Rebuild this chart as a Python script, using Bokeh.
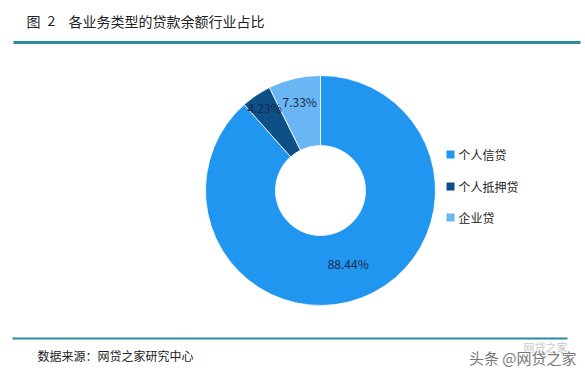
import numpy as np
from bokeh.plotting import figure
from bokeh.models import Range1d, ColumnDataSource
from bokeh.core.properties import value
from bokeh.embed import file_html
from bokeh.resources import INLINE

# ---- data ----
categories = ["个人信贷", "个人抵押贷", "企业贷"]
shares = [88.44, 4.23, 7.33]
labels = ["88.44%", "4.23%", "7.33%"]
colors = ["#2196f0", "#0d4f86", "#6ab5f3"]

title_fig = "图"
title_num = "2"
title_text = "各业务类型的贷款余额行业占比"
source_text = "数据来源：网贷之家研究中心"
watermark = "头条 @网贷之家"
watermark_small = "网贷之家"

W, H = 585, 375
FONT = "Noto Sans CJK SC"

def sy(y):  # screen y -> data y
    return H - y

p = figure(width=W, height=H, x_range=Range1d(0, W), y_range=Range1d(0, H),
           output_backend="svg", toolbar_location=None, min_border=0)
p.axis.visible = False
p.grid.visible = False
p.outline_line_color = None
p.background_fill_color = "white"
p.border_fill_color = "white"

# title
p.text(x=[26, 47], y=[sy(20)] * 2, text=[title_fig, title_num], text_font=value(FONT),
       text_font_size="14px", text_color="#222222", text_baseline="middle", text_align="left")
p.text(x=[68], y=[sy(20)], text=[title_text], text_font=value(FONT), text_font_size="14px",
       text_color="#222222", text_baseline="middle", text_align="left")
p.line(x=[13, 580], y=[sy(42), sy(42)], line_color="#2b8c9e", line_width=3)

# donut
cx, cy = 320, sy(190)
frac = np.array(shares) / np.sum(shares)
cum = np.concatenate([[0], np.cumsum(frac)])
start = np.pi / 2 - cum[:-1] * 2 * np.pi
end = np.pi / 2 - cum[1:] * 2 * np.pi
src = ColumnDataSource(dict(start=start, end=end, color=colors, cat=categories))
p.annular_wedge(x=cx, y=cy, inner_radius=45, outer_radius=115, start_angle="start",
                end_angle="end", direction="clock", fill_color="color",
                line_color="white", line_width=0.8, source=src)

# labels
mid = (start + end) / 2
lab_r = np.array([78, 100, 91])
lx = cx + lab_r * np.cos(mid)
ly = cy + lab_r * np.sin(mid)
p.text(x=lx, y=ly, text=labels, text_font=value(FONT), text_font_size="12px",
       text_color="#1b2a4c", text_align="center", text_baseline="middle")

# legend
leg_y = np.array([sy(154), sy(186), sy(217)])
p.rect(x=[450] * 3, y=leg_y, width=8, height=8, fill_color=colors, line_color=None)
p.text(x=[458] * 3, y=leg_y, text=categories, text_font=value(FONT), text_font_size="12px",
       text_color="#222222", text_align="left", text_baseline="middle")

# footer
p.line(x=[12, 567], y=[sy(338), sy(338)], line_color="#2b8c9e", line_width=2)
p.text(x=[37], y=[sy(355)], text=[source_text], text_font=value(FONT), text_font_size="12px",
       text_color="#222222", text_align="left", text_baseline="middle")
p.text(x=[567], y=[sy(346)], text=[watermark_small], text_font=value(FONT), text_font_size="11px",
       text_color="#c8c8c8", text_align="right", text_baseline="middle")
p.text(x=[576], y=[sy(357)], text=[watermark], text_font=value(FONT), text_font_size="15px",
       text_color="#777777", text_align="right", text_baseline="middle")

open("out.html", "w").write(file_html(p, INLINE))
